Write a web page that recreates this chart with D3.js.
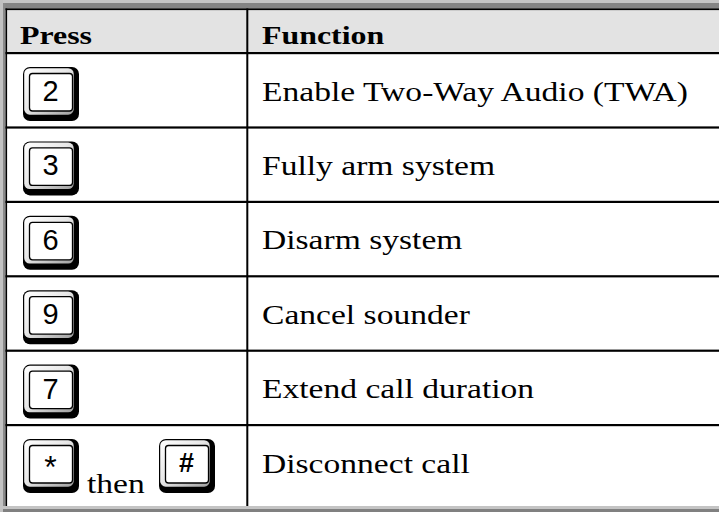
<!DOCTYPE html>
<html>
<head>
<meta charset="utf-8">
<script src="https://cdn.jsdelivr.net/npm/d3@7/dist/d3.min.js"></script>
<style>
  html, body { margin: 0; padding: 0; background: #fff; }
  svg { display: block; }
</style>
</head>
<body>
<div id="chart"></div>
<script>
// ---- data ----
const headers = ["Press", "Function"];
const keyLabels = [["2"], ["3"], ["6"], ["9"], ["7"], ["*", "#"]];
const joinWords = ["", "", "", "", "", "then"];
const functions = [
  "Enable Two-Way Audio (TWA)",
  "Fully arm system",
  "Disarm system",
  "Cancel sounder",
  "Extend call duration",
  "Disconnect call"
];

// ---- layout ----
const W = 719, H = 512;
const svg = d3.select("#chart").append("svg").attr("width", W).attr("height", H);

const defs = svg.append("defs");
const grad = defs.append("linearGradient").attr("id", "keyface")
  .attr("x1", "0").attr("y1", "0").attr("x2", "1").attr("y2", "1");
grad.append("stop").attr("offset", "0%").attr("stop-color", "#ffffff");
grad.append("stop").attr("offset", "45%").attr("stop-color", "#e8e8e8");
grad.append("stop").attr("offset", "100%").attr("stop-color", "#a0a0a0");

const rowIdx = d3.range(functions.length);
const y = d3.scaleLinear().domain([0, functions.length]).range([52, 498.4]);
const colX = d3.scaleOrdinal().domain(headers).range([20, 262]);

// measure a string's natural width to derive the horizontal stretch
function natWidth(str, size, weight) {
  const t = svg.append("text").attr("font-family", "Liberation Serif, serif")
    .attr("font-size", size).attr("font-weight", weight).text(str);
  const w = t.node().getComputedTextLength();
  t.remove();
  return w;
}
const BODY_SIZE = 27, HEAD_SIZE = 25.5;
const SX_BODY = 426 / natWidth(functions[0], BODY_SIZE, "normal");
const SX_HEAD = 72 / natWidth(headers[0], HEAD_SIZE, "bold");

// frame
svg.append("rect").attr("x", 0).attr("y", 0).attr("width", W).attr("height", 3).attr("fill", "#c6c6c6");
svg.append("rect").attr("x", 0).attr("y", 3).attr("width", W).attr("height", 6).attr("fill", "#858585");
svg.append("rect").attr("x", 0).attr("y", 0).attr("width", 3).attr("height", H).attr("fill", "#c2c2c2");
svg.append("rect").attr("x", 3).attr("y", 3).attr("width", 2.5).attr("height", H - 3).attr("fill", "#8a8a8a");
svg.append("rect").attr("x", 0).attr("y", 506).attr("width", W).attr("height", 3).attr("fill", "#c4c4c4");
svg.append("rect").attr("x", 3).attr("y", 509).attr("width", W).attr("height", 3).attr("fill", "#808080");

// header background
svg.append("rect").attr("x", 7).attr("y", 10).attr("width", W - 7).attr("height", 42).attr("fill", "#e3e3e3");

// borders
svg.append("rect").attr("x", 5.5).attr("y", 8.5).attr("width", W).attr("height", 1.6).attr("fill", "#000");
svg.append("rect").attr("x", 5.5).attr("y", 8.5).attr("width", 1.6).attr("height", 497.5).attr("fill", "#000");
svg.append("rect").attr("x", 246.3).attr("y", 8.5).attr("width", 2).attr("height", 497.5).attr("fill", "#000");
svg.selectAll("rect.rowline").data(rowIdx).enter().append("rect")
  .attr("class", "rowline")
  .attr("x", 5.5).attr("width", W)
  .attr("y", d => y(d)).attr("height", 2.2).attr("fill", "#000");

// headers
svg.selectAll("text.hdr").data(headers).enter().append("text")
  .attr("class", "hdr")
  .attr("transform", d => `translate(${colX(d)},43.5) scale(${SX_HEAD},1)`)
  .attr("font-family", "Liberation Serif, serif")
  .attr("font-weight", "bold")
  .attr("font-size", HEAD_SIZE)
  .attr("fill", "#000")
  .text(d => d);

// function texts
svg.selectAll("text.fn").data(functions).enter().append("text")
  .attr("class", "fn")
  .attr("transform", (d, i) => `translate(${colX("Function")},${y(i) + 48.5}) scale(${SX_BODY},1)`)
  .attr("font-family", "Liberation Serif, serif")
  .attr("font-size", BODY_SIZE)
  .attr("fill", "#000")
  .text(d => d);

// keys
const keyX = [23, 159];
const labelStyle = {
  "*": { size: 32, weight: "normal", dy: 39 },
  "#": { size: 27, weight: "bold", dy: 33 }
};
function drawKey(g, x0, y0, label) {
  g.append("rect").attr("x", x0).attr("y", y0).attr("width", 56).attr("height", 54)
    .attr("rx", 7).attr("fill", "#000");
  g.append("rect").attr("x", x0 + 1.2).attr("y", y0 + 1.2).attr("width", 49.5).attr("height", 46.5)
    .attr("rx", 5.5).attr("fill", "url(#keyface)");
  g.append("rect").attr("x", x0 + 6.5).attr("y", y0 + 6.5).attr("width", 43).attr("height", 37.5)
    .attr("rx", 3).attr("fill", "#fff").attr("stroke", "#000").attr("stroke-width", 1.3);
  const st = labelStyle[label] || { size: 29, weight: "normal", dy: 34 };
  g.append("text").attr("x", x0 + 27.5).attr("y", y0 + st.dy)
    .attr("text-anchor", "middle")
    .attr("font-family", "Liberation Sans, Arial, sans-serif")
    .attr("font-weight", st.weight)
    .attr("font-size", st.size)
    .attr("fill", "#000")
    .text(label);
}
rowIdx.forEach(i => {
  const g = svg.append("g").attr("class", "keys");
  keyLabels[i].forEach((lab, k) => drawKey(g, keyX[k], y(i) + 15, lab));
  if (joinWords[i]) {
    g.append("text")
      .attr("transform", `translate(87,${y(i) + 69}) scale(${SX_BODY},1)`)
      .attr("font-family", "Liberation Serif, serif")
      .attr("font-size", BODY_SIZE)
      .attr("fill", "#000")
      .text(joinWords[i]);
  }
});
</script>
</body>
</html>
